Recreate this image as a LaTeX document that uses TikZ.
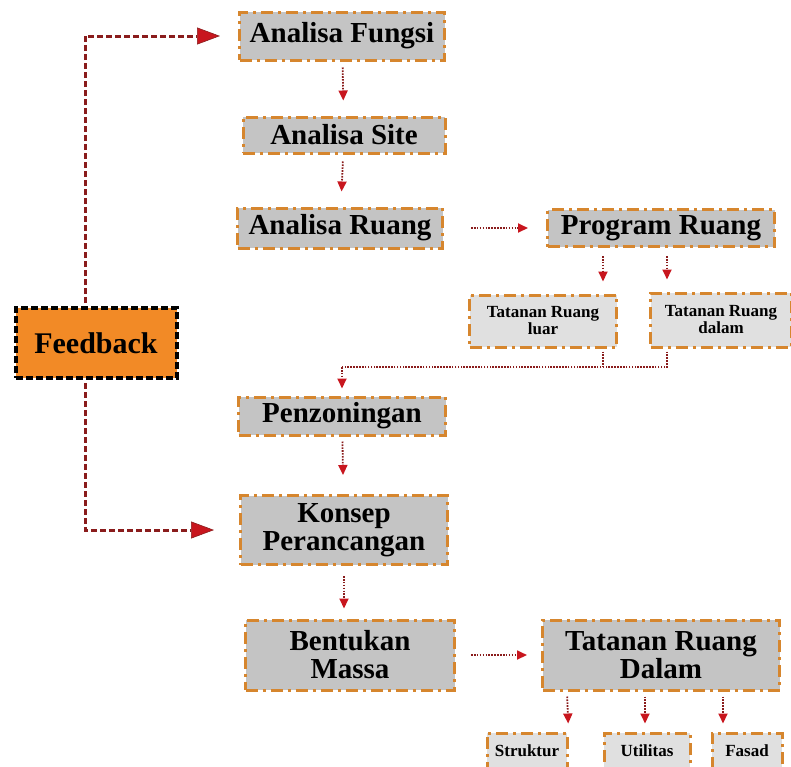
\documentclass[tikz,border=0pt]{standalone}
\usepackage{fontspec}
\setmainfont{Liberation Serif}
\usetikzlibrary{arrows.meta}
\definecolor{boxgrey}{HTML}{C4C4C4}
\definecolor{lightgrey}{HTML}{E0E0E0}
\definecolor{rimorange}{HTML}{D6862E}
\definecolor{linered}{HTML}{8A1C1C}
\definecolor{tipred}{HTML}{C8161E}
\definecolor{fbkorange}{HTML}{F28A26}

\begin{document}
\begin{tikzpicture}[x=1pt,y=-1pt,
    main node/.style={rectangle,draw=rimorange,fill=boxgrey,line width=3pt,dash pattern=on 12pt off 5pt on 3pt off 5pt,inner sep=0pt,align=center,font=\bfseries\fontsize{29}{28}\selectfont},
    sub node/.style={main node,fill=lightgrey,font=\bfseries\fontsize{17}{17}\selectfont},
    link/.style={draw=linered,line width=1.8pt,dash pattern=on 1.6pt off 1.3pt},
    flow/.style={link,-{Triangle[length=10pt,width=9pt,color=tipred]}},
    back/.style={draw=linered,line width=3pt,dash pattern=on 6pt off 3pt,-{Triangle[length=23pt,width=17pt,fill=tipred,color=linered,line width=0.6pt]}}]
    \useasboundingbox (0,0) rectangle (791,766);
    \node[main node,minimum width=205pt,minimum height=48pt] at (342,36) (fungsi) {Analisa Fungsi};
    \node[main node,minimum width=202pt,minimum height=36pt] at (344,135) (site) {Analisa Site};
    \node[main node,minimum width=205pt,minimum height=40pt] at (340,228) (ruang) {Analisa Ruang};
    \node[main node,minimum width=227pt,minimum height=37pt] at (661,228) (program) {Program Ruang};
    \node[sub node,minimum width=147pt,minimum height=52pt] at (543,321) (luar) {Tatanan Ruang\\luar};
    \node[sub node,minimum width=141pt,minimum height=54pt] at (721,320) (dalam) {Tatanan Ruang\\dalam};
    \node[main node,minimum width=207pt,minimum height=38pt] at (342,416) (zoning) {Penzoningan};
    \node[main node,minimum width=207pt,minimum height=69pt] at (344,530) (konsep) {Konsep\\Perancangan};
    \node[main node,minimum width=209pt,minimum height=70pt] at (350,655) (massa) {Bentukan\\Massa};
    \node[main node,minimum width=237pt,minimum height=70pt] at (661,655) (tatanan) {Tatanan Ruang\\Dalam};
    \node[sub node,minimum width=80pt,minimum height=36pt] at (527,751) (struktur) {Struktur};
    \node[sub node,minimum width=86pt,minimum height=36pt] at (647,751) (utilitas) {Utilitas};
    \node[sub node,minimum width=70pt,minimum height=36pt] at (747,751) (fasad) {Fasad};
    \node[rectangle,draw=black,fill=fbkorange,line width=4pt,dash pattern=on 7pt off 3pt,minimum width=161pt,minimum height=70pt,font=\bfseries\fontsize{30}{30}\selectfont] at (96,343) (feedback) {Feedback};
    \coordinate (join) at (342,367);

    \path
        (fungsi) edge[flow,shorten <=6pt,shorten >=15pt] (site)
        (site) edge[flow,shorten <=7pt,shorten >=15pt] (ruang)
        (ruang) edge[flow,shorten <=27pt,shorten >=18pt] (program)
        ([xshift=-58pt]program.south) edge[flow,shorten <=8pt,shorten >=12pt] ([xshift=60pt]luar.north)
        ([xshift=6pt]program.south) edge[flow,shorten <=8pt,shorten >=12pt] ([xshift=-54pt]dalam.north)
        (join) edge[flow,shorten >=7pt] (zoning.north)
        (zoning) edge[flow,shorten <=5pt,shorten >=19pt] (konsep)
        (konsep.south) edge[flow,shorten <=10pt,shorten >=10pt] (konsep.south |- massa.north)
        (massa) edge[flow,shorten <=15pt,shorten >=14pt] (tatanan)
        ([xshift=-94pt]tatanan.south) edge[flow,shorten <=5pt,shorten >=8pt] (struktur.north east)
        ([xshift=-16pt]tatanan.south) edge[flow,shorten <=5pt,shorten >=8pt] ([xshift=-2pt]utilitas.north)
        ([xshift=62pt]tatanan.south) edge[flow,shorten <=5pt,shorten >=8pt] ([xshift=-24pt]fasad.north)
        ;
    \draw[link,shorten <=3pt] ([xshift=60pt]luar.south) -- ([xshift=60pt]luar.south |- join);
    \draw[link,shorten <=3pt] ([xshift=-54pt]dalam.south) |- (join);

    % feedback loops
    \draw[back,shorten <=3pt,shorten >=18pt] ([xshift=-11pt]feedback.north) |- (fungsi.west);
    \draw[back,shorten <=3pt,shorten >=25pt] ([xshift=-11pt]feedback.south) |- (konsep.west);
\end{tikzpicture}
\end{document}
